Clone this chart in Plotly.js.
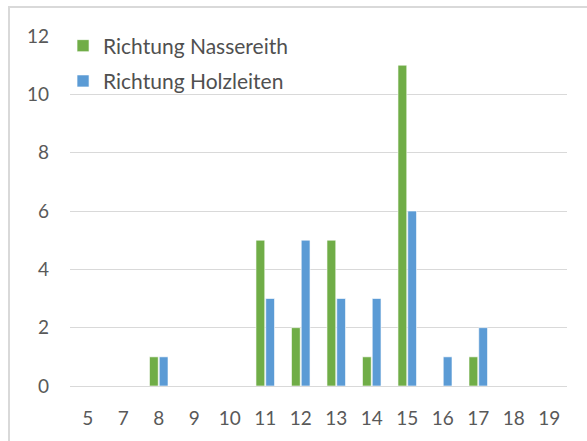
<!DOCTYPE html>
<html><head><meta charset="utf-8">
<script src="https://cdn.plot.ly/plotly-3.0.1.min.js"></script>
<style>
html,body{margin:0;padding:0;background:#fff;}
#chart{width:587px;height:441px;}
#frame{position:absolute;left:8px;top:6px;width:600px;height:460px;border-left:2px solid #d9d9d9;border-top:2px solid #d9d9d9;pointer-events:none;}
</style></head>
<body>
<div id="chart"></div>
<div id="frame"></div>
<script>
const categories = ['5','7','8','9','10','11','12','13','14','15','16','17','18','19'];
const nassereith = [0,0,1,0,0,5,2,5,1,11,0,1,0,0];
const holzleiten = [0,0,1,0,0,3,5,3,3,6,1,2,0,0];
const seriesNames = ['Richtung Nassereith','Richtung Holzleiten'];
const colors = ['#70AD47','#5B9BD5'];
const FONT = 'Lato, "Open Sans", sans-serif';

const traces = [nassereith, holzleiten].map((vals,i)=>({
  type:'bar', x:categories, y:vals, name:seriesNames[i],
  legendgroup:'g'+i,
  marker:{color:colors[i], line:{color:'rgba(255,255,255,0.6)', width:1}}
}));

const layout = {
  width:587, height:441,
  margin:{l:70, r:20, t:36, b:55},
  paper_bgcolor:'#fff', plot_bgcolor:'#fff',
  font:{family:FONT, size:19, color:'#595959'},
  barmode:'group', bargap:0.45, bargroupgap:0.1,
  showlegend:true,
  legend:{x:-0.014, xanchor:'left', y:1.03, yanchor:'top', bgcolor:'rgba(0,0,0,0)',
          tracegroupgap:5, font:{family:FONT, size:21, color:'#505050'}},
  xaxis:{type:'category', showgrid:false, showline:true, linecolor:'#d9d9d9', linewidth:1,
         ticks:'', ticklabelstandoff:15, tickfont:{family:FONT,size:19,color:'#595959'}},
  yaxis:{range:[0,12], dtick:2, showgrid:true, gridcolor:'#d9d9d9', gridwidth:1,
         zeroline:false, showline:false, ticks:'', ticklabelstandoff:20,
         tickfont:{family:FONT,size:19,color:'#595959'}}
};
Plotly.newPlot('chart', traces, layout, {displayModeBar:false, staticPlot:true});
</script>
</body></html>
